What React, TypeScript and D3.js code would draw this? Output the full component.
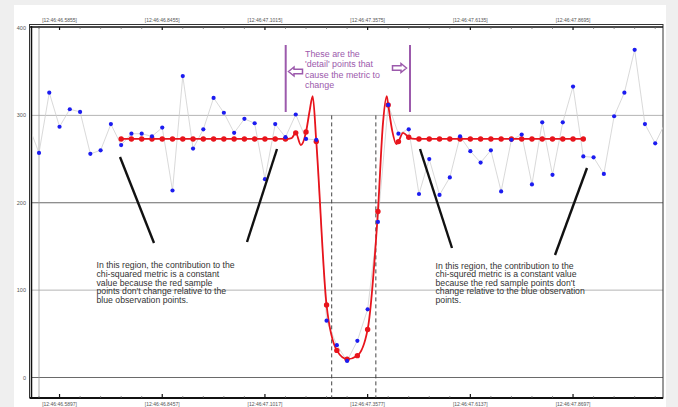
import React, { useEffect, useRef } from 'react';
import * as d3 from 'd3';

// blue observation points, sample index starts at -1 (first one is just off the left edge)
const blueStart = -1;
const blueValues = [
  288, 257, 326, 287, 307, 304, 256, 260, 290, 266,
  279, 279, 276, 286, 214, 345, 262, 284, 320, 303,
  280, 296, 291, 227, 290, 275, 301, 273, 272, 65,
  37, 19, 42, 78, 178, 312, 279, 284, 210, 250,
  209, 229, 276, 259, 246, 260, 213, 272, 278, 221,
  292, 232, 292, 333, 253, 252, 233, 299, 326, 375,
  290, 268, 292
];

// red sample points, index starts at 8
const redStart = 8;
const redValues = [
  273, 273, 273, 273, 273, 273, 273, 273, 273, 273,
  273, 273, 273, 273, 273, 273, 273, 280, 281, 270,
  83, 31, 21, 25, 55, 190, 312, 270, 275, 273,
  273, 273, 273, 273, 273, 273, 273, 273, 273, 273,
  273, 273, 273, 273, 273, 273
];

// red curve shape including the ringing between samples ('detail' region)
const redCurve: [number, number][] = [
  [8, 273], [24, 273], [24.6, 274], [25, 280], [25.5, 266], [26, 281],
  [26.35, 305], [26.65, 322], [27, 270], [28, 83], [29, 31], [30, 21],
  [31, 25], [32, 55], [33, 190], [33.5, 292], [33.86, 322], [34, 312],
  [34.4, 282], [34.8, 267], [35, 270], [35.45, 280], [36, 275], [36.6, 273],
  [53, 273]
];

const majorTicks = [2, 12, 22, 32, 42, 52];
const topTickLabels = ['[12:46:46.5855]', '[12:46:46.8455]', '[12:46:47.1015]', '[12:46:47.3575]', '[12:46:47.6135]', '[12:46:47.8695]'];
const bottomTickLabels = ['[12:46:46.5897]', '[12:46:46.8457]', '[12:46:47.1017]', '[12:46:47.3577]', '[12:46:47.6137]', '[12:46:47.8697]'];
const yTicks = [0, 100, 200, 300, 400];

const detailText = ['These are the', "'detail' points that", 'cause the metric to', 'change'];
const leftNote = [
  'In this region, the contribution to the',
  'chi-squared metric is a constant',
  'value because the red sample',
  "points don't change relative to the",
  'blue observation points.'
];
const rightNote = [
  'In this region, the contribution to the',
  'chi-squred metric is a constant value',
  "because the red sample points don't",
  'change relative to the blue observation',
  'points.'
];

function App() {
  const ref = useRef<SVGSVGElement>(null);

  useEffect(() => {
    const svg = d3.select(ref.current);
    svg.selectAll('*').remove();

    const W = 678, H = 407;
    const left = 30, right = 663, top = 26, bottom = 398;

    const x = d3.scaleLinear().domain([0, 10]).range([39, 141.7]);
    const y = d3.scaleLinear().domain([0, 400]).range([377.5, 28]);

    // background + panel
    svg.append('rect').attr('width', W).attr('height', H).attr('fill', '#efefef');
    svg.append('rect').attr('x', 14).attr('y', 5).attr('width', 652).attr('height', 402).attr('fill', '#fff');

    const clip = svg.append('defs').append('clipPath').attr('id', 'plot-clip');
    clip.append('rect').attr('x', left + 2).attr('y', top + 2).attr('width', right - left - 2).attr('height', bottom - top - 3);

    // y labels + grid
    svg.selectAll('.ylab').data(yTicks).join('text')
      .attr('x', 26).attr('y', d => y(d) + 2)
      .attr('text-anchor', 'end')
      .style('font-family', 'Liberation Sans, Arial, sans-serif')
      .style('font-size', '5.5px').attr('fill', '#555')
      .text(d => d);
    svg.selectAll('.grid').data(yTicks.filter(d => d < 400)).join('line')
      .attr('x1', left + 2).attr('x2', right)
      .attr('y1', d => y(d)).attr('y2', d => y(d))
      .attr('stroke', d => (d === 200 || d === 0) ? '#6a6a6a' : '#b4b4b4')
      .attr('stroke-width', 1);

    // vertical line at first sample
    svg.append('line').attr('x1', x(0)).attr('x2', x(0)).attr('y1', top).attr('y2', bottom)
      .attr('stroke', '#9a9a9a').attr('stroke-width', 0.8);

    // frame
    svg.append('rect').attr('x', left - 0.5).attr('y', top - 1.5).attr('width', right - left + 0.5).attr('height', bottom - top + 1.5)
      .attr('fill', 'none').attr('stroke', '#333').attr('stroke-width', 1);
    svg.append('line').attr('x1', left + 1.5).attr('x2', left + 1.5).attr('y1', top).attr('y2', bottom)
      .attr('stroke', '#111').attr('stroke-width', 1.5);
    svg.append('line').attr('x1', left).attr('x2', right).attr('y1', top + 1).attr('y2', top + 1)
      .attr('stroke', '#111').attr('stroke-width', 1.5);
    svg.append('line').attr('x1', left).attr('x2', right).attr('y1', bottom).attr('y2', bottom)
      .attr('stroke', '#111').attr('stroke-width', 1.8);

    // x ticks
    const minor = d3.range(0, 62, 2).filter(d => !majorTicks.includes(d));
    svg.selectAll('.tmin').data(minor).join('line')
      .attr('x1', d => x(d)).attr('x2', d => x(d)).attr('y1', top + 1).attr('y2', top + 3)
      .attr('stroke', '#666').attr('stroke-width', 0.7);
    svg.selectAll('.bmin').data(minor).join('line')
      .attr('x1', d => x(d)).attr('x2', d => x(d)).attr('y1', bottom).attr('y2', bottom - 2)
      .attr('stroke', '#666').attr('stroke-width', 0.7);
    svg.selectAll('.tmaj').data(majorTicks).join('line')
      .attr('x1', d => x(d)).attr('x2', d => x(d)).attr('y1', top + 1).attr('y2', top + 4)
      .attr('stroke', '#111').attr('stroke-width', 1.2);
    svg.selectAll('.bmaj').data(majorTicks).join('line')
      .attr('x1', d => x(d)).attr('x2', d => x(d)).attr('y1', bottom).attr('y2', bottom - 4)
      .attr('stroke', '#111').attr('stroke-width', 1.2);
    svg.selectAll('.tlab').data(majorTicks).join('text')
      .attr('x', d => x(d)).attr('y', 21.5).attr('text-anchor', 'middle')
      .style('font-family', 'Liberation Sans, Arial, sans-serif').style('font-size', '5px')
      .attr('fill', '#555').text((d, i) => topTickLabels[i]);
    svg.selectAll('.blab').data(majorTicks).join('text')
      .attr('x', d => x(d)).attr('y', 405.5).attr('text-anchor', 'middle')
      .style('font-family', 'Liberation Sans, Arial, sans-serif').style('font-size', '5px')
      .attr('fill', '#555').text((d, i) => bottomTickLabels[i]);

    // dashed markers of the detail zone
    svg.selectAll('.dash').data([28.5, 32.8]).join('line')
      .attr('x1', d => x(d)).attr('x2', d => x(d)).attr('y1', y(300)).attr('y2', bottom)
      .attr('stroke', '#444').attr('stroke-width', 1).attr('stroke-dasharray', '4,3');

    const plot = svg.append('g').attr('clip-path', 'url(#plot-clip)');
    const blue = blueValues.map((v, i) => [blueStart + i, v] as [number, number]);
    const red = redValues.map((v, i) => [redStart + i, v] as [number, number]);

    plot.append('path').datum(blue)
      .attr('d', d3.line<[number, number]>().x(d => x(d[0])).y(d => y(d[1])))
      .attr('fill', 'none').attr('stroke', '#cfcfcf').attr('stroke-width', 0.8);

    plot.append('path').datum(redCurve)
      .attr('d', d3.line<[number, number]>().x(d => x(d[0])).y(d => y(d[1])).curve(d3.curveMonotoneX))
      .attr('fill', 'none').attr('stroke', '#e8141c').attr('stroke-width', 1.8);

    plot.selectAll('.rp').data(red).join('circle')
      .attr('cx', d => x(d[0])).attr('cy', d => y(d[1])).attr('r', 2.7)
      .attr('fill', '#e8141c');

    plot.selectAll('.bp').data(blue).join('circle')
      .attr('cx', d => x(d[0])).attr('cy', d => y(d[1])).attr('r', 2.1)
      .attr('fill', '#1c1cf0');

    // purple annotation
    const purple = '#9c5aac';
    svg.selectAll('.pl').data([285.7, 410]).join('line')
      .attr('x1', d => d).attr('x2', d => d).attr('y1', 45).attr('y2', 112)
      .attr('stroke', purple).attr('stroke-width', 2);
    const arrow = (x0: number, yc: number, dir: number) => {
      // hollow block arrow, dir = -1 points left, 1 points right
      const len = 14, hw = 2.2, hh = 4.5, head = 5.5;
      const tip = dir < 0 ? x0 : x0 + len;
      const tail = dir < 0 ? x0 + len : x0;
      const neck = tip - dir * head;
      const pts = [[tip, yc], [neck, yc - hh], [neck, yc - hw], [tail, yc - hw], [tail, yc + hw], [neck, yc + hw], [neck, yc + hh]];
      svg.append('path').attr('d', 'M' + pts.map(p => p.join(',')).join('L') + 'Z')
        .attr('fill', '#fff').attr('stroke', purple).attr('stroke-width', 1.5).attr('stroke-linejoin', 'miter');
    };
    arrow(288.5, 71.5, -1);
    arrow(392.5, 68, 1);
    svg.selectAll('.dt').data(detailText).join('text')
      .attr('x', 305).attr('y', (d, i) => 56.5 + i * 10.5)
      .style('font-family', 'Liberation Sans, Arial, sans-serif').style('font-size', '8.9px')
      .attr('fill', purple).text(d => d);

    // black pointer lines
    const pointers = [[120, 157, 154, 243], [277, 149, 247, 242], [420, 149, 452, 248], [587, 168, 555, 255]];
    svg.selectAll('.ptr').data(pointers).join('line')
      .attr('x1', d => d[0]).attr('y1', d => d[1]).attr('x2', d => d[2]).attr('y2', d => d[3])
      .attr('stroke', '#111').attr('stroke-width', 2.4);

    svg.selectAll('.ln').data(leftNote).join('text')
      .attr('x', 96.5).attr('y', (d, i) => 268 + i * 8.8)
      .style('font-family', 'Liberation Sans, Arial, sans-serif').style('font-size', '8.7px')
      .attr('fill', '#333').text(d => d);
    svg.selectAll('.rn').data(rightNote).join('text')
      .attr('x', 435.5).attr('y', (d, i) => 268.5 + i * 8.6)
      .style('font-family', 'Liberation Sans, Arial, sans-serif').style('font-size', '8.7px')
      .attr('fill', '#333').text(d => d);
  });

  return (
    <svg ref={ref} width={678} height={407} style={{ position: 'absolute', left: 0, top: 0, display: 'block' }} />
  );
}

export default App;
